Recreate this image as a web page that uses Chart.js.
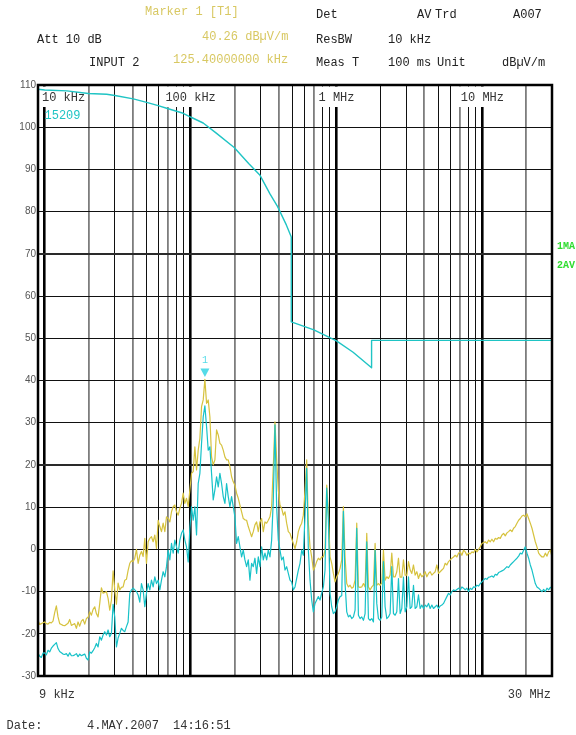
<!DOCTYPE html>
<html>
<head>
<meta charset="utf-8">
<title>Radiated emission 9 kHz - 30 MHz</title>
<script src="https://cdn.jsdelivr.net/npm/chart.js@4.4.1/dist/chart.umd.min.js"></script>
<style>
  html, body { margin: 0; padding: 0; background: #ffffff; }
  #wrap { position: relative; width: 576px; height: 735px; }
</style>
</head>
<body>
<div id="wrap"><canvas id="scan" width="576" height="735"></canvas></div>
<script>
// ---- Sweep settings (log sweep, 9 kHz .. 30 MHz) ----
const START_HZ = 9e3;
const STOP_HZ = 30e6;
const SWEEP_POINTS = 309;

// Trace 1: max peak (dBuV/m), one value per sweep point
const peakTrace = [
  -16.8, -17.8, -17.6, -17.4, -17.2, -17.6, -17.7, -17.3, -17.4, -17.0,
  -15.0, -13.4, -16.0, -17.6, -17.8, -18.0, -18.1, -17.8, -17.5, -16.6,
  -18.0, -17.8, -17.6, -18.7, -17.2, -18.2, -17.0, -16.6, -17.7, -16.4,
  -16.1, -14.8, -15.6, -14.2, -13.6, -15.2, -16.0, -12.8, -9.1, -10.4,
  -10.2, -10.0, -11.6, -14.4, -12.0, -5.1, -9.6, -13.0, -8.0, -9.6,
  -9.0, -8.9, -7.3, -7.1, -5.0, -3.3, -2.7, -2.9, -2.1, 0.0,
  -3.3, -1.4, -0.5, -1.7, 2.6, -3.3, 1.8, 2.6, 3.0, 1.8,
  3.4, 0.2, 6.9, 5.4, 4.2, 6.2, 4.2, 7.7, 7.3, 6.5,
  8.9, 10.1, 10.5, 8.9, 8.1, 9.7, 10.9, 13.3, 10.9, 12.1,
  10.1, 14.1, 18.0, 18.4, 24.3, 18.8, 23.5, 26.3, 33.8, 35.4,
  40.26, 34.6, 35.4, 31.4, 21.9, 20.0, 21.2, 28.3, 27.1, 25.1,
  24.7, 23.5, 21.9, 21.2, 21.2, 19.6, 17.2, 16.0, 15.2, 13.3,
  12.1, 10.5, 8.9, 7.3, 7.0, 6.9, 5.4, 4.2, 3.0, 4.2,
  5.8, 6.5, 4.2, 6.5, 7.3, 4.2, 6.5, 6.2, 6.9, 7.7,
  10.1, 19.6, 30.2, 21.2, 14.1, 10.5, 9.7, 8.1, 8.9, 6.2,
  4.2, 3.8, 2.6, 1.4, 0.2, 1.8, 4.2, 5.4, 6.2, 8.1,
  14.0, 21.2, 6.2, 0.6, -1.8, -4.9, -4.1, -2.9, -2.1, -2.5,
  -1.8, -1.8, -0.2, 15.2, 9.0, -1.8, -3.3, -5.7, -7.7, -6.5,
  -5.7, -4.5, -2.5, 10.1, -1.8, -8.1, -8.9, -8.5, -9.2, -8.9,
  -7.3, 6.2, -8.9, -9.0, -8.9, -8.1, -8.9, 3.8, -8.9, -9.6,
  -8.9, -8.5, 1.4, -8.5, -8.1, -8.5, -8.0, -0.2, -7.3, -6.5,
  -6.9, -6.1, -0.9, -6.5, -6.5, -5.3, -2.1, -6.6, -6.6, -2.5,
  -6.1, -6.1, -2.9, -4.9, -5.7, -3.7, -6.1, -5.3, -6.9, -5.7,
  -6.5, -6.1, -5.3, -6.5, -5.7, -5.3, -6.1, -5.7, -5.3, -3.7,
  -5.7, -5.3, -4.9, -4.5, -3.3, -3.7, -2.9, -2.5, -2.1, -1.8,
  -1.4, -1.8, -0.9, -0.6, -1.4, -0.2, -0.6, -1.4, -0.9, -1.1,
  -0.6, -0.8, 0.0, -0.6, 0.0, 0.6, 1.4, 1.6, 1.8, 1.4,
  2.2, 1.8, 2.4, 1.8, 2.6, 2.4, 2.8, 2.6, 3.4, 3.8,
  3.2, 3.9, 4.2, 4.6, 4.2, 5.0, 5.4, 6.2, 6.9, 7.3,
  7.9, 8.1, 7.7, 8.4, 7.3, 6.2, 5.0, 3.4, 1.8, 0.6,
  -0.9, -1.4, -1.8, -1.8, -0.9, -1.6, -0.6, -0.2, -1.8
];

// Trace 2: average (dBuV/m), one value per sweep point
const avgTrace = [
  -24.6, -25.3, -25.6, -24.6, -24.5, -25.0, -23.9, -24.3, -23.4, -22.9,
  -22.5, -22.1, -23.5, -24.2, -24.5, -24.8, -24.9, -24.7, -25.3, -24.5,
  -25.2, -25.2, -25.0, -24.7, -25.4, -24.8, -25.2, -25.0, -24.8, -25.8,
  -26.2, -24.3, -24.6, -24.0, -23.3, -22.3, -23.1, -20.7, -21.5, -20.3,
  -19.5, -20.3, -19.1, -20.7, -19.9, -13.0, -16.0, -23.1, -21.0, -19.9,
  -18.7, -19.2, -19.5, -18.3, -17.2, -10.4, -9.6, -9.2, -9.6, -10.0,
  -10.8, -12.5, -8.1, -9.6, -13.6, -10.4, -8.1, -9.6, -7.3, -8.9,
  -6.5, -8.1, -7.3, -9.6, -7.3, -5.3, -6.5, -4.1, -0.2, -2.5,
  1.4, -0.9, 2.2, 0.6, -0.9, 2.2, 3.8, 4.6, 2.2, 0.6,
  -3.0, 5.0, 10.1, 6.9, 10.1, 3.4, 15.6, 18.0, 25.1, 31.4,
  34.0, 29.1, 23.5, 24.3, 18.0, 11.7, 14.1, 17.2, 14.8, 18.0,
  15.6, 12.5, 10.9, 15.6, 12.5, 10.1, 12.5, 10.1, 7.7, 1.4,
  3.0, 0.6, -1.8, -0.2, -2.5, -4.1, -2.5, -7.3, -3.3, -4.1,
  -2.1, -5.7, -1.8, -4.1, 0.6, -2.5, -0.9, -2.5, -0.2, -1.8,
  2.2, 11.7, 29.5, 10.0, 2.2, -0.2, -2.5, -1.8, -4.9, -4.1,
  -5.7, -7.3, -7.7, -9.6, -8.9, -6.9, -4.9, -3.3, -0.2, -1.4,
  8.0, 19.2, -0.2, -7.3, -12.0, -14.8, -12.8, -12.0, -11.2, -12.0,
  -10.4, -8.9, -4.9, 14.5, 6.9, -10.4, -13.6, -15.2, -14.8, -13.6,
  -12.0, -11.2, -11.0, 9.0, -8.1, -14.8, -16.0, -15.6, -16.4, -16.0,
  -14.4, 5.0, -15.6, -16.4, -16.0, -16.8, -15.2, 1.8, -16.4, -16.8,
  -16.4, -17.2, -0.2, -12.8, -16.4, -16.8, -16.0, -2.9, -13.6, -16.4,
  -16.0, -15.2, -4.1, -15.2, -15.6, -14.8, -6.9, -15.2, -14.0, -6.6,
  -14.8, -13.6, -6.5, -14.0, -13.6, -8.5, -14.0, -13.6, -10.8, -14.0,
  -13.2, -14.0, -13.2, -13.6, -12.8, -14.0, -13.2, -14.0, -13.6, -13.2,
  -14.0, -13.4, -13.2, -12.8, -12.0, -11.2, -10.4, -10.8, -10.0, -9.6,
  -9.8, -9.5, -9.2, -9.6, -8.9, -9.2, -9.6, -9.2, -10.0, -9.2,
  -9.5, -8.9, -9.0, -8.5, -8.7, -8.1, -7.7, -7.3, -6.9, -7.1,
  -6.6, -6.5, -6.3, -6.6, -5.9, -6.1, -5.5, -5.3, -5.1, -4.9,
  -4.5, -4.1, -4.3, -3.7, -3.3, -2.9, -2.5, -2.1, -1.6, -0.9,
  -1.1, -0.2, 0.6, -0.9, -2.1, -3.7, -4.9, -6.5, -8.1, -8.9,
  -9.2, -9.6, -10.0, -9.5, -10.0, -9.2, -9.6, -9.0, -9.2
];

// Limit line "15209" (frequency in kHz, level in dBuV/m)
const limitFreqKHz = [9, 10, 14.2, 19.9, 26.6, 30.3, 40.5, 50, 60, 68.5, 89, 101.6, 122, 150, 199, 250, 298, 350, 395, 454, 490, 490, 700, 1000, 1300, 1740, 1740, 30000];
const limitLevel   = [109.0, 108.8, 108.6, 108.0, 107.8, 107.5, 106.7, 105.9, 105.1, 104.5, 103.3, 102.3, 101.0, 98.6, 95.2, 91.4, 88.7, 84.2, 81.2, 76.8, 74.0, 53.9, 52.0, 49.4, 46.7, 43.0, 49.5, 49.5];

// Level axis
const LEVEL_MIN = -30;
const LEVEL_MAX = 110;
const LEVEL_STEP = 10;

// Marker 1 on trace 1
const MARKER_FREQ_KHZ = 125.4;
const MARKER_LEVEL = 40.26;

// Decade captions along the top of the grid
const decadeCaptions = [
  { hz: 1e4, text: '10 kHz' },
  { hz: 1e5, text: '100 kHz' },
  { hz: 1e6, text: '1 MHz' },
  { hz: 1e7, text: '10 MHz' }
];

// ---- derived series ----
const sweepHz = Array.from({ length: SWEEP_POINTS }, (_, i) =>
  START_HZ * Math.pow(STOP_HZ / START_HZ, i / (SWEEP_POINTS - 1)));
const asPoints = levels => levels.map((y, i) => ({ x: sweepHz[i], y }));
const limitPoints = limitFreqKHz.map((f, i) => ({ x: f * 1e3, y: limitLevel[i] }));

// vertical grid: 1..9 per decade between start and stop
const gridHz = [START_HZ];
for (let dec = 1e4; dec <= 1e7; dec *= 10) {
  for (let m = 1; m <= 9; m++) {
    const v = m * dec;
    if (v <= STOP_HZ) gridHz.push(v);
  }
}
const softGridHz = new Set([2e4, 4e4, 7e4, 2e5, 4e5, 7e5, 4e6, 7e6, 2e7]);
const isDecade = v => Math.abs(Math.log10(v) - Math.round(Math.log10(v))) < 1e-9;

const MONO = '"Liberation Mono", "DejaVu Sans Mono", monospace';
const CYAN = '#17c2c8';
const LIMIT_CYAN = '#1fc4c4';
const YELLOW = '#d6c23e';
const HEAD_YELLOW = '#d8c862';
const MARKER_CYAN = '#55dbe8';

const analyzerDecor = {
  id: 'analyzerDecor',
  beforeDatasetsDraw(chart) {
    const { ctx, chartArea: a, scales: { x } } = chart;
    ctx.save();
    ctx.font = '12px ' + MONO;
    ctx.textBaseline = 'middle';
    for (const d of decadeCaptions) {
      const w = ctx.measureText(d.text).width;
      let left = x.getPixelForValue(d.hz) - w / 2;
      left = Math.max(left, a.left + 4);
      ctx.fillStyle = '#ffffff';
      ctx.fillRect(left - 2, a.top + 1.5, w + 4, 20.5);
      ctx.fillStyle = '#333333';
      ctx.fillText(d.text, left, a.top + 12.5);
    }
    ctx.fillStyle = LIMIT_CYAN;
    ctx.fillText('15209', a.left + 6.5, a.top + 31);
    ctx.restore();
  },
  afterDatasetsDraw(chart) {
    const { ctx, scales: { x, y } } = chart;
    const px = x.getPixelForValue(MARKER_FREQ_KHZ * 1e3);
    const py = y.getPixelForValue(MARKER_LEVEL);
    ctx.save();
    ctx.fillStyle = MARKER_CYAN;
    ctx.beginPath();
    ctx.moveTo(px - 4.5, py - 11);
    ctx.lineTo(px + 4.5, py - 11);
    ctx.lineTo(px, py - 2.5);
    ctx.closePath();
    ctx.fill();
    ctx.font = '10px ' + MONO;
    ctx.textAlign = 'center';
    ctx.textBaseline = 'middle';
    ctx.fillText('1', px, py - 19);
    ctx.restore();
  },
  afterDraw(chart) {
    const { ctx, chartArea: a } = chart;
    ctx.save();
    // plot frame
    ctx.strokeStyle = '#000000';
    ctx.lineWidth = 2.5;
    ctx.strokeRect(a.left, a.top, a.right - a.left, a.bottom - a.top);

    // instrument header
    ctx.font = '12px ' + MONO;
    ctx.textBaseline = 'middle';
    ctx.textAlign = 'left';
    const dark = '#222222';
    const head = [
      ['Marker 1 [T1]', 145, 12, HEAD_YELLOW],
      ['Det', 316, 15, dark], ['AV', 417, 15, dark], ['Trd', 435, 15, dark], ['A007', 513, 15, dark],
      ['Att 10 dB', 37, 40, dark], ['40.26 dB\u00B5V/m', 202, 37, HEAD_YELLOW],
      ['ResBW', 316, 40, dark], ['10 kHz', 388, 40, dark],
      ['INPUT 2', 89, 63, dark], ['125.40000000 kHz', 173, 60, HEAD_YELLOW],
      ['Meas T', 316, 63, dark], ['100 ms', 388, 63, dark], ['Unit', 437, 63, dark],
      ['dB\u00B5V/m', 502, 63, dark]
    ];
    for (const [t, tx, ty, c] of head) {
      ctx.fillStyle = c;
      ctx.fillText(t, tx, ty);
    }

    // trace tags on the right
    ctx.font = 'bold 10px ' + MONO;
    ctx.fillStyle = '#2fdc2f';
    ctx.fillText('1MA', a.right + 5, 246);
    ctx.fillText('2AV', a.right + 5, 265);

    // span and date line
    ctx.font = '12px ' + MONO;
    ctx.fillStyle = '#333333';
    ctx.fillText('9 kHz', a.left + 1, a.bottom + 19);
    ctx.textAlign = 'right';
    ctx.fillText('30 MHz', a.right - 1, a.bottom + 19);
    ctx.textAlign = 'left';
    ctx.fillText('Date:', 6.5, 726);
    ctx.fillText('4.MAY.2007', 87, 726);
    ctx.fillText('14:16:51', 173, 726);
    ctx.restore();
  }
};

new Chart(document.getElementById('scan'), {
  type: 'line',
  data: {
    datasets: [
      { label: '15209', data: limitPoints, borderColor: LIMIT_CYAN, borderWidth: 1.4, pointRadius: 0, order: 0 },
      { label: '2AV', data: asPoints(avgTrace), borderColor: CYAN, borderWidth: 1.2, pointRadius: 0, order: 1 },
      { label: '1MA', data: asPoints(peakTrace), borderColor: YELLOW, borderWidth: 1.2, pointRadius: 0, order: 2 }
    ]
  },
  options: {
    responsive: false,
    animation: false,
    events: [],
    layout: { padding: { left: 0, top: 85, right: 24, bottom: 59 } },
    plugins: { legend: { display: false }, tooltip: { enabled: false } },
    elements: { line: { tension: 0, borderJoinStyle: 'round' } },
    scales: {
      x: {
        type: 'logarithmic',
        min: START_HZ,
        max: STOP_HZ,
        border: { display: false },
        ticks: { display: false },
        afterBuildTicks: s => { s.ticks = gridHz.map(value => ({ value })); },
        afterFit: s => { s.height = 0; },
        grid: {
          drawTicks: false,
          color: c => isDecade(c.tick.value) ? '#000000' : (softGridHz.has(c.tick.value) ? '#7d7d7d' : '#111111'),
          lineWidth: c => isDecade(c.tick.value) ? 2.6 : (softGridHz.has(c.tick.value) ? 1.8 : 1)
        }
      },
      y: {
        type: 'linear',
        min: LEVEL_MIN,
        max: LEVEL_MAX,
        border: { display: false },
        afterFit: s => { s.width = 38; },
        ticks: {
          stepSize: LEVEL_STEP,
          padding: 2,
          color: '#555555',
          font: { family: '"Liberation Sans", Arial, sans-serif', size: 10 }
        },
        grid: {
          drawTicks: false,
          color: c => (c.tick.value === 70 || c.tick.value === 20) ? '#2a2a2a' : '#111111',
          lineWidth: c => (c.tick.value === 70 || c.tick.value === 20) ? 2 : 1
        }
      }
    }
  },
  plugins: [analyzerDecor]
});
</script>
</body>
</html>
